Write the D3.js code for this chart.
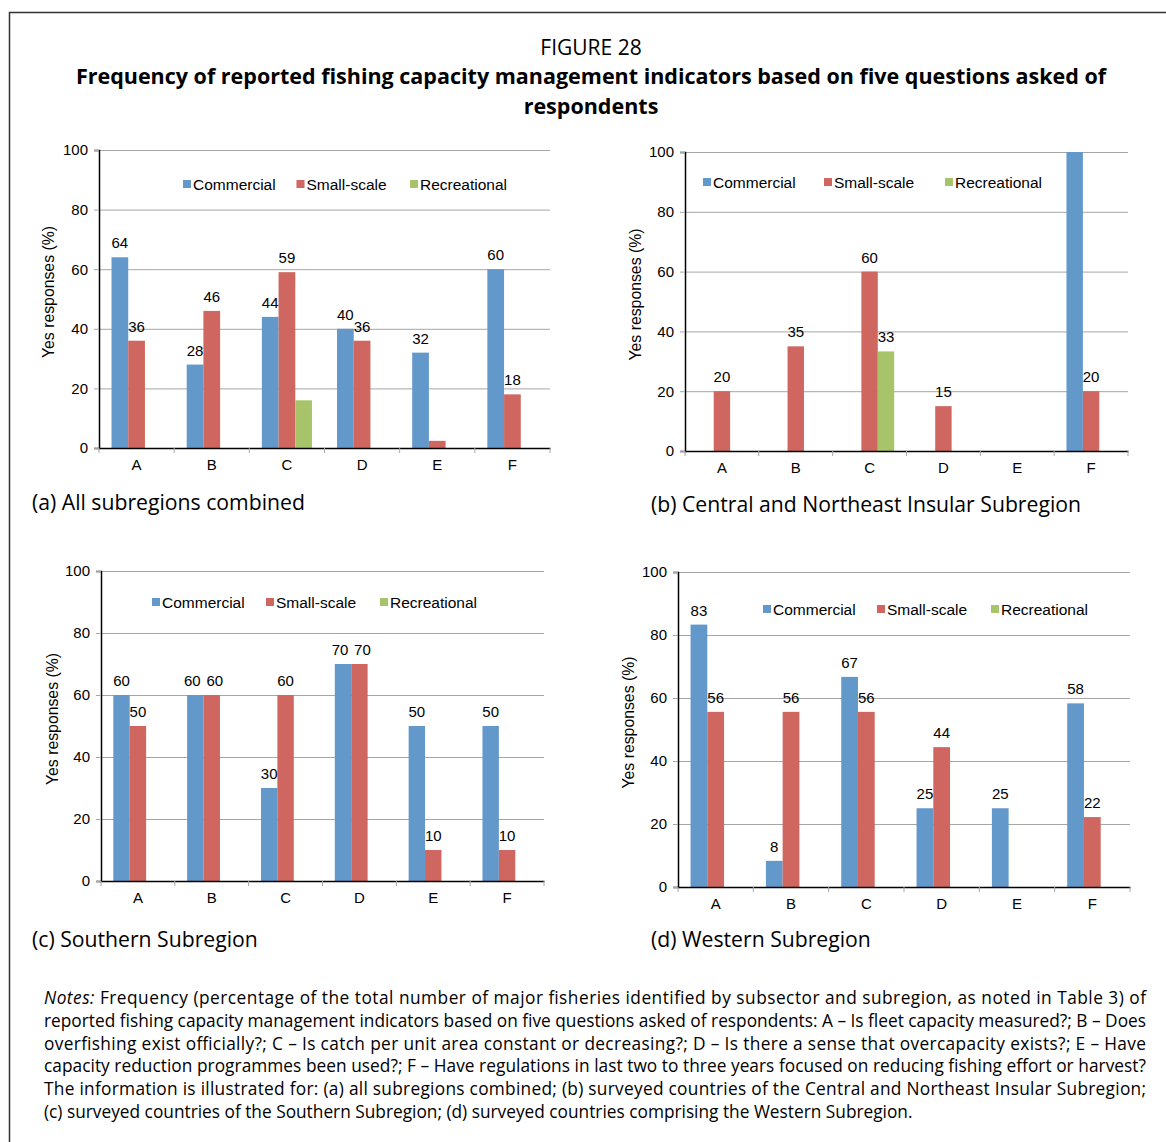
<!DOCTYPE html>
<html>
<head>
<meta charset="utf-8">
<script src="https://cdn.jsdelivr.net/npm/d3@7"></script>
<style>
  body { margin: 0; background: #fff; }
  svg { display: block; }
</style>
</head>
<body>
<svg id="chart" width="1166" height="1142"></svg>
<script>
const categories = ["A", "B", "C", "D", "E", "F"]
const seriesNames = ["Commercial", "Small-scale", "Recreational"]
const yTicks = [0, 20, 40, 60, 80, 100]

// (a) all subregions
const allCommercial = [64, 28, 44, 40, 32, 60]
const allSmallScale = [36, 46, 59, 36, 2.4, 18]
const allRecreational = [0, 0, 16, 0, 0, 0]
const allHidden = [["Small-scale", "E"], ["Recreational", "C"]]

// (b) central and northeast insular
const centralCommercial = [0, 0, 0, 0, 0, 100]
const centralSmallScale = [20, 35, 60, 15, 0, 20]
const centralRecreational = [0, 0, 33.3, 0, 0, 0]
const centralHidden = [["Commercial", "F"]]

// (c) southern
const southernCommercial = [60, 60, 30, 70, 50, 50]
const southernSmallScale = [50, 60, 60, 70, 10, 10]
const southernRecreational = [0, 0, 0, 0, 0, 0]

// (d) western
const westernCommercial = [83.3, 8.3, 66.7, 25, 25, 58.3]
const westernSmallScale = [55.6, 55.6, 55.6, 44.4, 0, 22.2]
const westernRecreational = [0, 0, 0, 0, 0, 0]

const noteLines = [
    "Frequency (percentage of the total number of major fisheries identified by subsector and subregion, as noted in Table 3) of",
    "reported fishing capacity management indicators based on five questions asked of respondents: A \u2013 Is fleet capacity measured?; B \u2013 Does",
    "overfishing exist officially?; C \u2013 Is catch per unit area constant or decreasing?; D \u2013 Is there a sense that overcapacity exists?; E \u2013 Have",
    "capacity reduction programmes been used?; F \u2013 Have regulations in last two to three years focused on reducing fishing effort or harvest?",
    "The information is illustrated for: (a) all subregions combined; (b) surveyed countries of the Central and Northeast Insular Subregion;",
    "(c) surveyed countries of the Southern Subregion; (d) surveyed countries comprising the Western Subregion."
]

const colors = { "Commercial": "#6398cb", "Small-scale": "#cf665f", "Recreational": "#a8c46a" }
const axisFont = "'Liberation Sans', Arial, sans-serif"
const textFont = "'Open Sans', 'Noto Sans', sans-serif"

const panels = [
    { caption: "(a) All subregions combined", values: [allCommercial, allSmallScale, allRecreational], hidden: allHidden,
      left: 99, right: 550, top: 150, bottom: 448, titleX: 54, legendX: 183, legendY: 184, legendStep: 113.5, capX: 32, capY: 510 },
    { caption: "(b) Central and Northeast Insular Subregion", values: [centralCommercial, centralSmallScale, centralRecreational], hidden: centralHidden,
      left: 685, right: 1128, top: 152, bottom: 451, titleX: 641, legendX: 703, legendY: 182, legendStep: 121, capX: 651, capY: 512 },
    { caption: "(c) Southern Subregion", values: [southernCommercial, southernSmallScale, southernRecreational], hidden: [],
      left: 101, right: 544, top: 571, bottom: 881, titleX: 58, legendX: 152, legendY: 602, legendStep: 114, capX: 32, capY: 947 },
    { caption: "(d) Western Subregion", values: [westernCommercial, westernSmallScale, westernRecreational], hidden: [],
      left: 678, right: 1130, top: 572, bottom: 887, titleX: 634, legendX: 763, legendY: 609, legendStep: 114, capX: 651, capY: 947 }
]

const svg = d3.select("#chart")

// frame
svg.append("path")
    .attr("d", "M9.5,1142 V12.5 H1166")
    .attr("fill", "none")
    .attr("stroke", "#333")
    .attr("stroke-width", 1.5)

svg.append("text")
    .attr("x", 591).attr("y", 55)
    .attr("text-anchor", "middle")
    .attr("font-family", textFont)
    .attr("font-size", 21)
    .text("FIGURE 28")

svg.append("text")
    .attr("x", 591).attr("y", 84)
    .attr("text-anchor", "middle")
    .attr("font-family", textFont)
    .attr("font-weight", "bold")
    .attr("font-size", 21.5)
    .text("Frequency of reported fishing capacity management indicators based on five questions asked of")

svg.append("text")
    .attr("x", 591).attr("y", 114)
    .attr("text-anchor", "middle")
    .attr("font-family", textFont)
    .attr("font-weight", "bold")
    .attr("font-size", 21.5)
    .text("respondents")

panels.forEach(p => drawPanel(p))

function drawPanel(p) {
    const g = svg.append("g")

    const x0 = d3.scaleBand()
        .domain(categories)
        .range([p.left, p.right])

    const bw = x0.bandwidth()
    const gap = bw * 1.5 / 4.5
    const x1 = d3.scaleBand()
        .domain(seriesNames)
        .range([gap / 2, bw - gap / 2])

    const y = d3.scaleLinear()
        .domain([0, 100])
        .range([p.bottom, p.top])

    // gridlines
    g.append("g")
        .attr("transform", `translate(${p.left},0)`)
        .call(d3.axisLeft(y).tickValues(yTicks.slice(1)).tickSize(-(p.right - p.left)).tickFormat(""))
        .call(g => g.select(".domain").remove())
        .call(g => g.selectAll("line").attr("stroke", "#a6a6a6"))

    // y axis
    g.append("g")
        .attr("transform", `translate(${p.left},0)`)
        .call(d3.axisLeft(y).tickValues(yTicks).tickSize(5).tickPadding(6))
        .call(g => g.select(".domain").attr("stroke", "#000").attr("stroke-width", 1.5))
        .call(g => g.selectAll("line").attr("stroke", "#a6a6a6"))
        .call(g => g.selectAll("text").attr("font-family", axisFont).attr("font-size", 15).attr("fill", "#000"))

    g.append("text")
        .attr("transform", `translate(${p.titleX},${(p.top + p.bottom) / 2 - 7}) rotate(-90)`)
        .attr("text-anchor", "middle")
        .attr("font-family", axisFont)
        .attr("font-size", 15.8)
        .text("Yes responses (%)")

    // bars
    const rows = []
    seriesNames.forEach((s, si) => {
        categories.forEach((c, ci) => {
            rows.push({ series: s, si: si, cat: c, value: p.values[si][ci] })
        })
    })

    g.append("g")
        .selectAll("rect")
        .data(rows.filter(d => d.value > 0))
        .join("rect")
        .attr("x", d => x0(d.cat) + x1(d.series))
        .attr("y", d => y(d.value))
        .attr("width", x1.bandwidth())
        .attr("height", d => y(0) - y(d.value))
        .attr("fill", d => colors[d.series])

    const isHidden = d => p.hidden.some(h => h[0] === d.series && h[1] === d.cat)
    const labels = rows.filter(d => d.value > 0 && !isHidden(d))

    // nudge neighbouring labels apart when they sit at about the same height
    labels.forEach(d => { d.dx = 0 })
    labels.forEach(d => {
        const next = labels.find(e => e.cat === d.cat && e.si === d.si + 1)
        if (next && Math.abs(y(d.value) - y(next.value)) < 8) {
            d.dx -= 3
            next.dx += 3
        }
    })

    g.append("g")
        .selectAll("text")
        .data(labels)
        .join("text")
        .attr("x", d => x0(d.cat) + x1(d.series) + x1.bandwidth() / 2 + d.dx)
        .attr("y", d => y(d.value) - 9)
        .attr("text-anchor", "middle")
        .attr("font-family", axisFont)
        .attr("font-size", 15)
        .text(d => d3.format(".0f")(d.value))

    // x axis
    g.append("g")
        .attr("transform", `translate(0,${p.bottom})`)
        .call(d3.axisBottom(x0).tickSize(0).tickPadding(11))
        .call(g => g.select(".domain").attr("stroke", "#000").attr("stroke-width", 1.5))
        .call(g => g.selectAll("text").attr("font-family", axisFont).attr("font-size", 15).attr("fill", "#000"))

    const bounds = categories.map(c => x0(c)).concat([x0(categories[categories.length - 1]) + bw])
    g.append("g")
        .selectAll("line")
        .data(bounds)
        .join("line")
        .attr("x1", d => d).attr("x2", d => d)
        .attr("y1", p.bottom).attr("y2", p.bottom + 5)
        .attr("stroke", "#a6a6a6")

    // legend
    const lg = g.append("g")
        .selectAll("g")
        .data(seriesNames)
        .join("g")
        .attr("transform", (d, i) => `translate(${p.legendX + i * p.legendStep},${p.legendY})`)
    lg.append("rect")
        .attr("x", 0).attr("y", -4)
        .attr("width", 8).attr("height", 8)
        .attr("fill", d => colors[d])
    lg.append("text")
        .attr("x", 10).attr("y", 5.5)
        .attr("font-family", axisFont)
        .attr("font-size", 15.5)
        .text(d => d)

    svg.append("text")
        .attr("x", p.capX).attr("y", p.capY)
        .attr("font-family", textFont)
        .attr("font-size", 21.2)
        .text(p.caption)
}

// notes
const notes = svg.append("g")
    .attr("font-family", "'Open Sans', 'Noto Sans', sans-serif")
    .attr("font-size", 17.3)

notes.selectAll("text")
    .data(noteLines)
    .join("text")
    .attr("x", 44)
    .attr("y", (d, i) => 1004 + i * 22.8)
    .each(function (d, i) {
        const t = d3.select(this)
        if (i === 0) {
            t.append("tspan").attr("font-style", "italic").text("Notes: ")
        }
        t.append("tspan").text(d)
        if (i < noteLines.length - 1) {
            t.attr("textLength", 1102).attr("lengthAdjust", "spacing")
        }
    })
</script>
</body>
</html>
